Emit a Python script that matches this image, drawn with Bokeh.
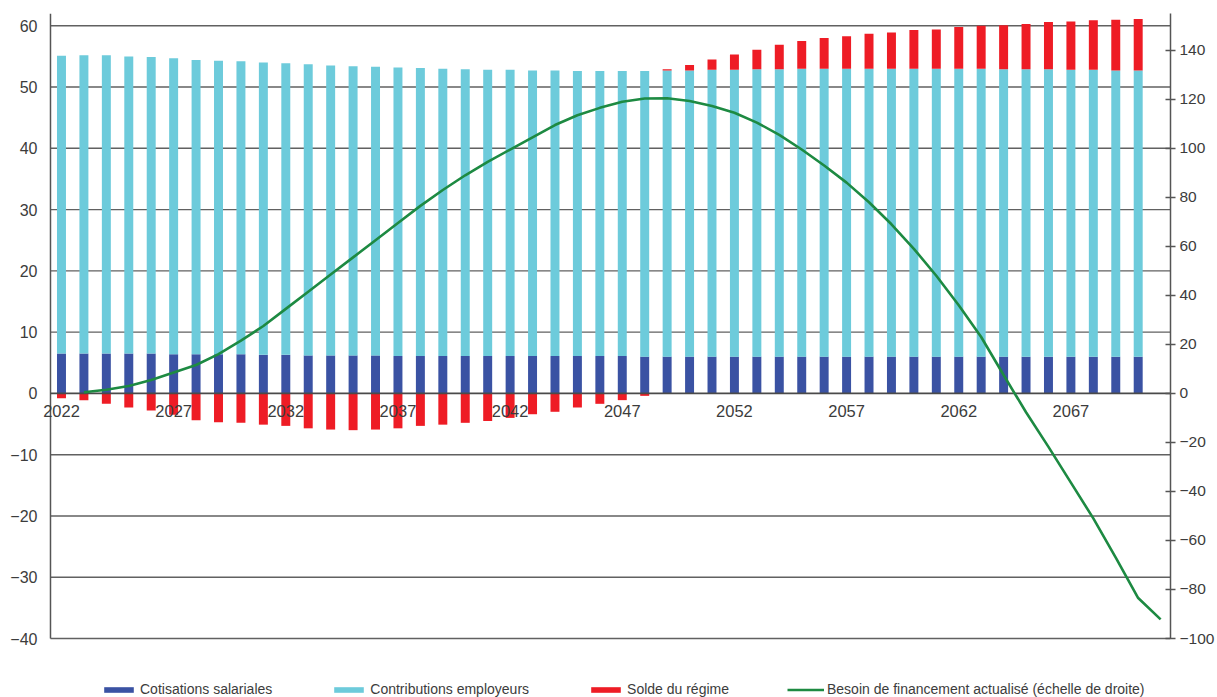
from bokeh.plotting import figure
from bokeh.models import (ColumnDataSource, LinearAxis, Range1d, FixedTicker,
                          Legend, LegendItem)
from bokeh.core.properties import value
from bokeh.embed import file_html
from bokeh.resources import INLINE

# ---- data -------------------------------------------------------------
years = list(range(2022, 2071))

cotisations_salariales = [
    6.5, 6.5, 6.5, 6.5, 6.5, 6.4, 6.4, 6.4, 6.4, 6.3,
    6.3, 6.2, 6.2, 6.2, 6.2, 6.1, 6.1, 6.1, 6.1, 6.1,
    6.1, 6.1, 6.1, 6.1, 6.1, 6.1, 6.0, 6.0, 6.0, 6.0,
    6.0, 6.0, 6.0, 6.0, 6.0, 6.0, 6.0, 6.0, 6.0, 6.0,
    6.0, 6.0, 6.0, 6.0, 6.0, 6.0, 6.0, 6.0, 6.0,
]

contributions_employeurs = [
    48.6, 48.7, 48.7, 48.5, 48.4, 48.3, 48.0, 47.9, 47.8, 47.7,
    47.6, 47.5, 47.3, 47.2, 47.1, 47.1, 47.0, 46.9, 46.8, 46.7,
    46.7, 46.6, 46.6, 46.5, 46.5, 46.5, 46.6, 46.7, 46.7, 46.8,
    46.8, 46.9, 46.9, 47.0, 47.0, 47.0, 47.0, 47.0, 47.0, 47.0,
    47.0, 47.0, 46.9, 46.9, 46.9, 46.8, 46.8, 46.7, 46.7,
]

solde_regime = [
    -0.8, -1.1, -1.7, -2.3, -2.8, -3.5, -4.4, -4.7, -4.8, -5.1,
    -5.3, -5.7, -5.9, -6.0, -5.9, -5.7, -5.3, -5.1, -4.8, -4.5,
    -4.0, -3.4, -3.0, -2.3, -1.7, -1.1, -0.4, 0.2, 0.9, 1.7,
    2.5, 3.2, 4.0, 4.5, 5.0, 5.3, 5.7, 5.9, 6.3, 6.4,
    6.8, 7.0, 7.2, 7.4, 7.7, 7.9, 8.1, 8.3, 8.4,
]

# discounted financing need, right-hand scale
besoin_years = list(range(2023, 2072))
besoin_financement = [
    0.5, 1.5, 3.0, 5.5, 8.5, 11.6, 16.0, 21.5, 27.5, 34.5,
    41.5, 48.5, 55.5, 62.5, 69.5, 76.5, 83.0, 89.0, 94.5, 99.5,
    104.5, 109.5, 113.5, 116.5, 119.0, 120.3, 120.4, 119.3, 117.3, 114.5,
    110.5, 105.5, 99.5, 93.0, 86.0, 78.0, 69.0, 59.0, 48.0, 36.0,
    23.0, 7.5, -7.7, -21.8, -36.4, -51.0, -67.0, -83.5, -92.2,
]

year_labels = ["2022", "2027", "2032", "2037", "2042", "2047", "2052", "2057", "2062", "2067"]
left_ticks = [-40, -30, -20, -10, 0, 10, 20, 30, 40, 50, 60]
right_ticks = [-100, -80, -60, -40, -20, 0, 20, 40, 60, 80, 100, 120, 140]

# ---- styling ----------------------------------------------------------
FONT = "Liberation Sans"
TXT = "#3c3c3c"
C_SAL = "#3a52a3"
C_EMP = "#6dcbdb"
C_SOLDE = "#ee1c25"
C_BESOIN = "#1d8a42"
AXIS = "#555555"
GRID = "#616161"

# value-axis extents; the plot area runs a little further down and left
# so the legend and the first year label have room
LEFT_MIN, LEFT_MAX = -40, 62
RIGHT_MIN, RIGHT_MAX = -100, 155
AXIS_X = 2021.51      # where the value axis line stands
X_START, X_END = 2021.02, 2071.44

# ---- stacked bar geometry --------------------------------------------
sal_top = list(cotisations_salariales)
emp_top = [s + e for s, e in zip(cotisations_salariales, contributions_employeurs)]
solde_bottom = [t if r > 0 else 0 for t, r in zip(emp_top, solde_regime)]
solde_top = [t + r if r > 0 else r for t, r in zip(emp_top, solde_regime)]

src = ColumnDataSource(dict(
    x=years,
    zero=[0] * len(years),
    sal_top=sal_top,
    emp_top=emp_top,
    solde_bottom=solde_bottom,
    solde_top=solde_top,
))

y_bottom = LEFT_MIN - 59 / 625 * (LEFT_MAX - LEFT_MIN)
r_bottom = RIGHT_MIN - 59 / 625 * (RIGHT_MAX - RIGHT_MIN)

p = figure(width=1217, height=697, output_backend="svg", toolbar_location=None,
           x_range=Range1d(X_START, X_END), y_range=Range1d(y_bottom, LEFT_MAX),
           min_border_left=39, min_border_right=47, min_border_top=13,
           min_border_bottom=0)
p.outline_line_color = None
p.background_fill_color = "white"
p.xgrid.visible = False
p.ygrid.visible = False
p.xaxis.visible = False

# horizontal grid and value-axis line
grid_ticks = [t for t in left_ticks if t != 0]
p.segment(x0=[AXIS_X] * len(grid_ticks), x1=[X_END] * len(grid_ticks),
          y0=grid_ticks, y1=grid_ticks, line_color=GRID, line_width=1.4)
p.segment(x0=[AXIS_X], x1=[AXIS_X], y0=[LEFT_MIN], y1=[LEFT_MAX],
          line_color=AXIS, line_width=1.5)

# left axis: labels only
ax = p.yaxis[0]
ax.ticker = FixedTicker(ticks=left_ticks)
ax.axis_line_color = None
ax.major_tick_line_color = None
ax.major_tick_in = 0
ax.major_tick_out = 0
ax.minor_tick_line_color = None
ax.major_label_standoff = 2
ax.major_label_text_font = FONT
ax.major_label_text_font_size = "16px"
ax.major_label_text_color = TXT

# right axis
p.extra_y_ranges = {"right": Range1d(r_bottom, RIGHT_MAX)}
rax = LinearAxis(y_range_name="right", ticker=FixedTicker(ticks=right_ticks),
                 bounds=(RIGHT_MIN, RIGHT_MAX))
rax.axis_line_color = AXIS
rax.axis_line_width = 1.5
rax.major_tick_line_color = AXIS
rax.major_tick_line_width = 1.5
rax.major_tick_in = 5
rax.major_tick_out = 5
rax.minor_tick_line_color = None
rax.major_label_standoff = 4
rax.major_label_text_font = FONT
rax.major_label_text_font_size = "15.5px"
rax.major_label_text_color = TXT
p.add_layout(rax, "right")

W = 0.4
r_sal = p.vbar(x="x", bottom="zero", top="sal_top", width=W, source=src,
               fill_color=C_SAL, line_color=None)
r_emp = p.vbar(x="x", bottom="sal_top", top="emp_top", width=W, source=src,
               fill_color=C_EMP, line_color=None)
r_solde = p.vbar(x="x", bottom="solde_bottom", top="solde_top", width=W, source=src,
                 fill_color=C_SOLDE, line_color=None)

# zero line
p.segment(x0=[AXIS_X], x1=[X_END], y0=[0], y1=[0], line_color="#4a4a4a", line_width=1.6)

r_besoin = p.line(besoin_years, besoin_financement, y_range_name="right",
                  line_color=C_BESOIN, line_width=2.6)

# year labels just under the zero line
lbl_src = ColumnDataSource(dict(x=[int(t) for t in year_labels],
                                y=[0] * len(year_labels), t=year_labels))
p.text(x="x", y="y", text="t", source=lbl_src, text_align="center",
       text_baseline="top", y_offset=12, text_font=value(FONT),
       text_font_size="16.5px", text_color=TXT)

legend = Legend(items=[
    LegendItem(label="Cotisations salariales", renderers=[r_sal]),
    LegendItem(label="Contributions employeurs", renderers=[r_emp]),
    LegendItem(label="Solde du régime", renderers=[r_solde]),
    LegendItem(label="Besoin de financement actualisé (échelle de droite)", renderers=[r_besoin]),
], orientation="horizontal", location=(61, 0), spacing=58,
    glyph_width=37, glyph_height=7, label_standoff=3, padding=0, margin=0,
    label_height=14, label_text_font=FONT, label_text_font_size="14px",
    label_text_color=TXT, border_line_color=None, background_fill_alpha=0)
p.add_layout(legend, "center")

open("out.html", "w").write(file_html(p, INLINE))
